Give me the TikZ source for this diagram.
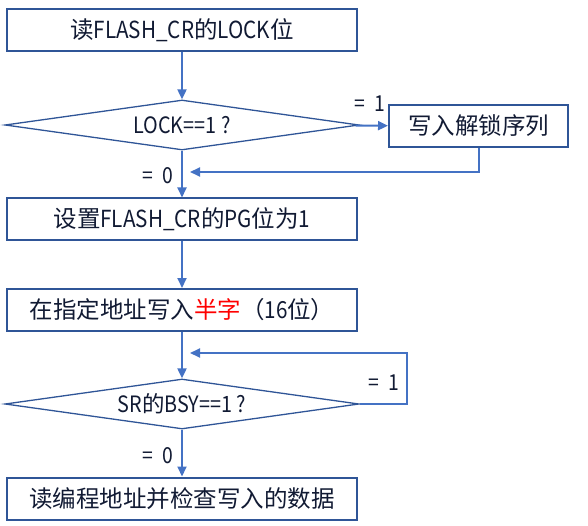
\documentclass[tikz,border=0pt]{standalone}
\usepackage{fontspec}
\setmainfont{Noto Sans CJK SC}
\newfontfamily\lat[FakeStretch=0.88]{Noto Sans CJK SC}
\usetikzlibrary{shapes.geometric,arrows.meta}
\definecolor{boxline}{HTML}{2F5597}
\definecolor{arrline}{HTML}{4472C4}
\definecolor{txt}{HTML}{111A33}
\newcommand{\lt}[1]{{\lat #1}}
\tikzset{
  flowbox/.style={draw=boxline, line width=2pt, rectangle, minimum width=350pt, minimum height=42pt, inner sep=0pt, text=txt, font=\fontsize{23.5pt}{26pt}\selectfont},
  smallbox/.style={flowbox, minimum width=179pt},
  decide/.style={draw=boxline, line width=1.3pt, diamond, aspect=7, minimum width=354pt, minimum height=50pt, inner sep=0pt, text=txt, font=\fontsize{22.5pt}{24pt}\selectfont},
  arr/.style={draw=arrline, line width=2pt, -{Triangle[length=10pt,width=9pt]}},
  lbl/.style={text=txt, inner sep=0pt, font=\fontsize{22pt}{24pt}\selectfont}
}
\begin{document}
\begin{tikzpicture}[x=1pt,y=-1pt]
\useasboundingbox (0,0) rectangle (588,526);
\node[flowbox] (b1) at (182,30.5) {读\lt{FLASH\_CR}的\lt{LOCK}位};
\node[decide] (d1) at (182,125) {\lt{LOCK==1 ?}};
\node[smallbox] (u) at (478.5,126) {写入解锁序列};
\node[flowbox] (b2) at (182,219.5) {设置\lt{FLASH\_CR}的\lt{PG}位为\lt{1}};
\node[flowbox] (b3) at (182,310) {在指定地址写入{\color{red}半字}（\lt{16}位）};
\node[decide] (d2) at (182,404) {\lt{SR}的\lt{BSY==1 ?}};
\node[flowbox] (b4) at (182,498.5) {读编程地址并检查写入的数据};
\coordinate (j1) at (190,172);
\coordinate (j2) at (190,353);
\coordinate (r2) at (407,353);
\node[lbl] (l1) at (370,104) {\lt{= \ 1}};
\node[lbl] (l0) at (158,176) {\lt{= \ 0}};
\node[lbl] (l2) at (384,383) {\lt{= \ 1}};
\node[lbl] (l3) at (158,456) {\lt{= \ 0}};
\draw[arr] (b1) -- (d1);
\draw[arr] (d1) -- (u);
\draw[arr] (u.south) |- (j1);
\draw[arr] (d1) -- (b2);
\draw[arr] (b2) -- (b3);
\draw[arr] (b3) -- (d2);
\draw[arr] (d2.east) -- (d2.east -| r2) -- (r2) -- (j2);
\draw[arr] (d2) -- (b4);
\end{tikzpicture}
\end{document}
